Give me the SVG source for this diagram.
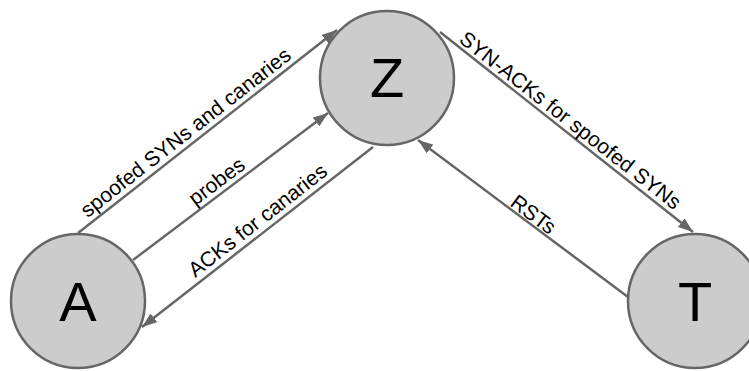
<svg xmlns="http://www.w3.org/2000/svg" width="749" height="371" viewBox="0 0 749 371">
  <style>
    .node circle { fill: #cccccc; stroke: #666666; stroke-width: 2.5; }
    .node text { font-family: "Liberation Sans", Arial, sans-serif; font-size: 56px; fill: #000000; text-anchor: middle; }
    .edge line { stroke: #666666; stroke-width: 2.5; marker-end: url(#arrow); }
    .label { font-family: "Liberation Sans", Arial, sans-serif; font-size: 21px; fill: #000000; text-anchor: middle; }
  </style>
  <defs>
    <marker id="arrow" viewBox="0 0 15 11" refX="15" refY="5.5" markerWidth="15" markerHeight="11" markerUnits="userSpaceOnUse" orient="auto">
      <path d="M0,0 L15,5.5 L0,11 Z" fill="#666666"/>
    </marker>
  </defs>

  <!-- connectors -->
  <g id="edges" class="edge">
    <line x1="78" y1="233" x2="337" y2="30"/>
    <line x1="133" y1="260" x2="328" y2="113"/>
    <line x1="373" y1="147" x2="142" y2="327"/>
    <line x1="440" y1="32" x2="693" y2="232"/>
    <line x1="628" y1="297" x2="418" y2="140"/>
  </g>

  <!-- edge labels -->
  <g id="labels">
    <text class="label" transform="translate(190,138) rotate(-38)">spoofed SYNs and canaries</text>
    <text class="label" transform="translate(221,187) rotate(-37)">probes</text>
    <text class="label" transform="translate(262,226) rotate(-38)">ACKs for canaries</text>
    <text class="label" transform="translate(566,126) rotate(38)">SYN-ACKs for spoofed SYNs</text>
    <text class="label" transform="translate(529,220) rotate(37)">RSTs</text>
  </g>

  <!-- nodes -->
  <g id="node-A" class="node">
    <circle cx="78" cy="301" r="67"/>
    <text x="78" y="321">A</text>
  </g>
  <g id="node-Z" class="node">
    <circle cx="387" cy="78" r="67"/>
    <text x="387" y="97">Z</text>
  </g>
  <g id="node-T" class="node">
    <circle cx="695" cy="301" r="67"/>
    <text x="695" y="321">T</text>
  </g>
</svg>
